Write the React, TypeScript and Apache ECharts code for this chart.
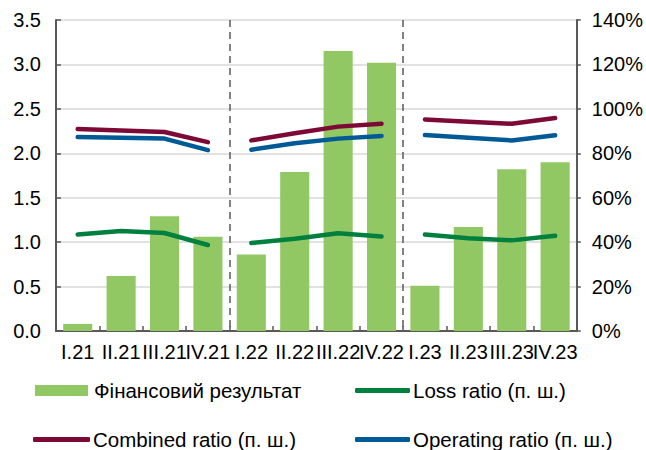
import React, { useEffect, useRef } from "react";
import * as echarts from "echarts";

const categories = ["I.21", "II.21", "III.21", "IV.21", "I.22", "II.22", "III.22", "IV.22", "I.23", "II.23", "III.23", "IV.23"];
const finResult = [0.08, 0.62, 1.29, 1.06, 0.86, 1.79, 3.15, 3.02, 0.51, 1.17, 1.82, 1.9];
const lossRatio = [43.4, 45.0, 44.1, 38.7, 39.6, 41.5, 44.0, 42.5, 43.4, 41.8, 40.8, 42.9];
const combinedRatio = [90.9, 90.3, 89.6, 85.0, 85.8, 89.0, 92.0, 93.3, 95.2, 94.2, 93.3, 95.9];
const operatingRatio = [87.3, 87.0, 86.6, 81.4, 81.6, 84.5, 86.6, 87.8, 88.2, 87.0, 85.8, 88.1];
const leftTicks = { min: 0, max: 3.5, interval: 0.5 };
const rightTicks = { min: 0, max: 140, interval: 20 };

const names = {
  bar: "Фінансовий результат",
  loss: "Loss ratio (п. ш.)",
  combined: "Combined ratio (п. ш.)",
  operating: "Operating ratio (п. ш.)",
};

const colors = {
  bar: "#92C863",
  loss: "#00803E",
  combined: "#7D0A36",
  operating: "#005A96",
};

function yearSlice(arr: number[], year: number) {
  return arr.map((v, i) => (Math.floor(i / 4) === year ? v : null));
}

export default function App() {
  const ref = useRef<HTMLDivElement>(null);
  useEffect(() => {
    if (!ref.current) return;
    const chart = echarts.init(ref.current, undefined, { renderer: "svg" });
    const font = "Liberation Sans, Arial, sans-serif";
    const lineSeries: any[] = [];
    const lines: [keyof typeof names, number[]][] = [
      ["loss", lossRatio],
      ["combined", combinedRatio],
      ["operating", operatingRatio],
    ];
    for (const [key, arr] of lines) {
      for (let y = 0; y < 3; y++) {
        lineSeries.push({
          name: names[key],
          type: "line",
          yAxisIndex: 1,
          data: yearSlice(arr, y),
          showSymbol: false,
          symbol: "none",
          connectNulls: false,
          lineStyle: { color: colors[key], width: 4.5, cap: "round", join: "round" },
          itemStyle: { color: colors[key] },
          z: 3,
        });
      }
    }
    const legendText = (padLeft: number) => ({
      fontSize: 20.5,
      color: "#000",
      fontFamily: font,
      padding: [0, 0, 0, padLeft],
    });
    const legendBase = { orient: "horizontal", itemGap: 0, padding: 0 };
    chart.setOption({
      animation: false,
      grid: { left: 56, right: 69, top: 20, bottom: 119 },
      legend: [
        { ...legendBase, data: [{ name: names.bar, icon: "rect" }], left: 35, top: 380, itemWidth: 53, itemHeight: 11, textStyle: legendText(1) },
        { ...legendBase, data: [{ name: names.loss, icon: "roundRect" }], left: 355, top: 380, itemWidth: 55, itemHeight: 5, textStyle: legendText(-2) },
        { ...legendBase, data: [{ name: names.combined, icon: "roundRect" }], left: 33, top: 429, itemWidth: 57, itemHeight: 5, textStyle: legendText(-2) },
        { ...legendBase, data: [{ name: names.operating, icon: "roundRect" }], left: 355, top: 429, itemWidth: 55, itemHeight: 5, textStyle: legendText(-2) },
      ],
      xAxis: {
        type: "category",
        data: categories,
        boundaryGap: true,
        axisLine: { lineStyle: { color: "#595959", width: 2 } },
        axisTick: { show: true, inside: true, length: 5, lineStyle: { color: "#595959", width: 1.5 } },
        axisLabel: { interval: 0, fontSize: 20, color: "#000", fontFamily: font, margin: 11 },
        splitLine: {
          show: true,
          interval: (index: number) => index === 4 || index === 8,
          lineStyle: { color: "#595959", type: [7, 5], width: 1.5 },
        },
      },
      yAxis: [
        {
          type: "value",
          ...leftTicks,
          axisLine: { show: true, lineStyle: { color: "#595959", width: 2 } },
          axisTick: { show: true, inside: true, length: 5, lineStyle: { color: "#595959", width: 1.5 } },
          axisLabel: { fontSize: 20, color: "#000", fontFamily: font, margin: 15, formatter: (v: number) => v.toFixed(1) },
          splitLine: { show: true, lineStyle: { color: "#D9D9D9", width: 1.5 } },
        },
        {
          type: "value",
          ...rightTicks,
          position: "right",
          axisLine: { show: true, lineStyle: { color: "#595959", width: 2 } },
          axisTick: { show: true, inside: false, length: 4, lineStyle: { color: "#595959", width: 1.5 } },
          axisLabel: { fontSize: 20, color: "#000", fontFamily: font, margin: 15, formatter: "{value}%" },
          splitLine: { show: false },
        },
      ],
      series: [
        {
          name: names.bar,
          type: "bar",
          yAxisIndex: 0,
          data: finResult,
          barCategoryGap: "33%",
          itemStyle: { color: colors.bar },
          z: 2,
        },
        ...lineSeries,
      ],
    });
    return () => chart.dispose();
  }, []);
  return <div ref={ref} style={{ width: 646, height: 450, position: "absolute", left: 0, top: 0 }} />;
}
